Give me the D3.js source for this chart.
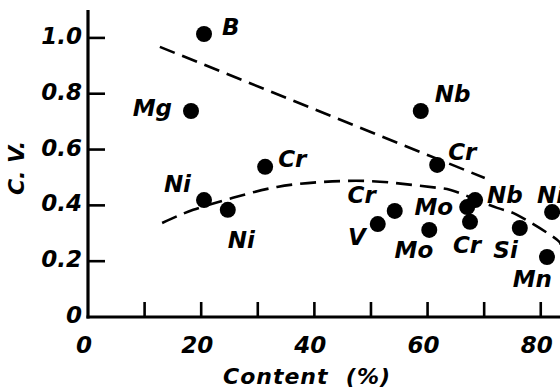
<!DOCTYPE html>
<html>
<head>
<meta charset="utf-8">
<script src="https://cdn.jsdelivr.net/npm/d3@7/dist/d3.min.js"></script>
<style>
  body { margin: 0; background: #fff; }
  svg { display: block; }
  text { font-family: "DejaVu Sans", sans-serif; font-weight: bold; font-style: italic; fill: #000; }
  .tick-label { font-size: 23px; }
  .pt-label { font-size: 23px; }
  .title { font-size: 22px; }
</style>
</head>
<body>
<svg id="chart"></svg>
<script>
// element, content (%), C.V.
const elements = ['B', 'Mg', 'Ni', 'Ni', 'Cr', 'Nb', 'Cr', 'V', 'Cr', 'Mo', 'Nb', 'Mo', 'Cr', 'Si', 'Mn', 'Ni'];
const contents = [20.5, 18.2, 20.5, 24.7, 31.3, 58.8, 61.7, 51.2, 54.2, 60.3, 68.4, 67.0, 67.5, 76.3, 81.1, 82.0];
const cvs      = [1.014, 0.738, 0.419, 0.384, 0.538, 0.738, 0.545, 0.333, 0.380, 0.312, 0.419, 0.394, 0.341, 0.319, 0.215, 0.376];

// dashed trend lines
const upperX = [12.7, 70.1];
const upperY = [0.968, 0.498];
const lowerX = [13.1, 18.6, 25.6, 33.4, 41.5, 49.8, 57.4, 62.2, 65.7, 72.3, 75.8, 82.2, 83.4];
const lowerY = [0.337, 0.384, 0.427, 0.466, 0.484, 0.487, 0.473, 0.462, 0.444, 0.391, 0.366, 0.287, 0.258];

const xTicks = [0, 10, 20, 30, 40, 50, 60, 70, 80];
const xTickLabels = [0, 20, 40, 60, 80];
const yTicks = [0, 0.2, 0.4, 0.6, 0.8, 1.0];
const yTickLabels = ['0', '0.2', '0.4', '0.6', '0.8', '1.0'];

// label placement relative to each point (layout only)
const labelPos = [
  [18, 1, 'start'], [-19, 5, 'end'], [-13, -8, 'end'], [0, 38, 'start'],
  [13, 0, 'start'], [14, -9, 'start'], [11, -5, 'start'], [-12, 21, 'end'],
  [-19, -8, 'end'], [4, 28, 'end'], [12, 3, 'start'], [-14, 8, 'end'],
  [-3, 31, 'middle'], [-2, 30, 'end'], [5, 30, 'end'], [-15, -9, 'start']
];

const W = 560, H = 389;
let svg = d3.select('#chart').attr('width', W).attr('height', H);

const x = d3.scaleLinear().domain([0, 83.4]).range([88, 560]);
const y = d3.scaleLinear().domain([0, 1.1]).range([317, 10]);

// axes
svg.append('line').attr('x1', x(0)).attr('x2', x(0)).attr('y1', y(1.1)).attr('y2', y(0) + 1.5)
  .attr('stroke', '#000').attr('stroke-width', 3.2);
svg.append('line').attr('x1', x(0) - 1.5).attr('x2', W).attr('y1', y(0)).attr('y2', y(0))
  .attr('stroke', '#000').attr('stroke-width', 3.2);

svg.append('g').selectAll('line')
  .data(xTicks.slice(1))
  .enter().append('line')
  .attr('x1', d => x(d)).attr('x2', d => x(d))
  .attr('y1', y(0)).attr('y2', y(0) - 15)
  .attr('stroke', '#000').attr('stroke-width', 2.6);

svg.append('g').selectAll('line')
  .data(yTicks.slice(1))
  .enter().append('line')
  .attr('x1', x(0)).attr('x2', x(0) + 17)
  .attr('y1', d => y(d)).attr('y2', d => y(d))
  .attr('stroke', '#000').attr('stroke-width', 2.6);

svg.append('g').selectAll('text')
  .data(xTickLabels)
  .enter().append('text')
  .attr('class', 'tick-label')
  .attr('text-anchor', 'middle')
  .attr('x', d => x(d) - 4)
  .attr('y', 353)
  .text(d => d);

svg.append('g').selectAll('text')
  .data(yTicks)
  .enter().append('text')
  .attr('class', 'tick-label')
  .attr('text-anchor', 'end')
  .attr('x', x(0) - 6)
  .attr('y', d => y(d) + 6)
  .text((d, i) => yTickLabels[i]);

// titles
svg.append('text').attr('class', 'title')
  .attr('text-anchor', 'middle')
  .attr('transform', 'translate(24,168) rotate(-90)')
  .text('C. V.');
svg.append('text').attr('class', 'title')
  .attr('text-anchor', 'middle')
  .attr('x', 307).attr('y', 384)
  .style('letter-spacing', '1px')
  .style('white-space', 'pre')
  .text('Content  (%)');

// dashed lines
const line = d3.line().x(d => x(d[0])).y(d => y(d[1]));
svg.append('path')
  .datum(upperX.map((v, i) => [v, upperY[i]]))
  .attr('d', line)
  .attr('fill', 'none').attr('stroke', '#000').attr('stroke-width', 2.6)
  .attr('stroke-dasharray', '16 8');
svg.append('path')
  .datum(lowerX.map((v, i) => [v, lowerY[i]]))
  .attr('d', line.curve(d3.curveNatural))
  .attr('fill', 'none').attr('stroke', '#000').attr('stroke-width', 2.6)
  .attr('stroke-dasharray', '16 8');

// points
const pts = elements.map((e, i) => ({ name: e, c: contents[i], v: cvs[i], lp: labelPos[i] }));
svg.append('g').selectAll('circle')
  .data(pts)
  .enter().append('circle')
  .attr('cx', d => x(d.c)).attr('cy', d => y(d.v))
  .attr('r', 8).attr('fill', '#000');

svg.append('g').selectAll('text')
  .data(pts)
  .enter().append('text')
  .attr('class', 'pt-label')
  .attr('x', d => x(d.c) + d.lp[0])
  .attr('y', d => y(d.v) + d.lp[1])
  .attr('text-anchor', d => d.lp[2])
  .text(d => d.name);
</script>
</body>
</html>
